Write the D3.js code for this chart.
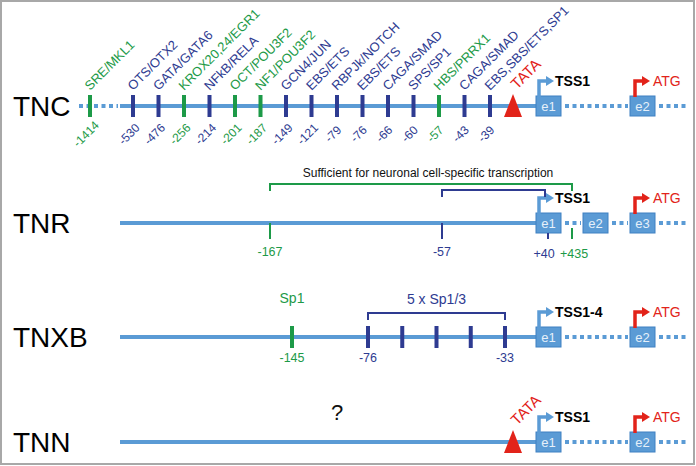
<!DOCTYPE html>
<html><head><meta charset="utf-8">
<script src="https://cdn.jsdelivr.net/npm/d3@7"></script>
<style>body{margin:0;background:#fff}svg{display:block}text{font-family:Arial,"Liberation Sans",sans-serif}</style>
</head><body><svg id="c" width="696" height="466"></svg>
<script>
// ---------------- data ----------------
const genes = ["TNC", "TNR", "TNXB", "TNN"];
const tssLabels = ["TSS1", "TSS1", "TSS1-4", "TSS1"];
const hasTata = [true, false, false, true];
const tncExons = ["e1", "e2"];
const tnrExons = ["e1", "e2", "e3"];
const tnxbExons = ["e1", "e2"];
const tnnExons = ["e1", "e2"];
const atgExon = ["e2", "e3", "e2", "e2"];

// TNC promoter binding sites
const tncFactors = ["SRE/MKL1", "OTS/OTX2", "GATA/GATA6", "KROX20,24/EGR1", "NFkB/RELA", "OCT/POU3F2", "NF1/POU3F2", "GCN4/JUN", "EBS/ETS", "RBPJk/NOTCH", "EBS/ETS", "CAGA/SMAD", "SPS/SP1", "HBS/PRRX1", "CAGA/SMAD", "EBS,SBS/ETS,SP1"];
const tncPositions = [-1414, -530, -476, -256, -214, -201, -187, -149, -121, -79, -76, -66, -60, -57, -43, -39];
const tncGroup = ["g", "b", "b", "g", "b", "g", "g", "b", "b", "b", "b", "b", "b", "g", "b", "b"];

// TNR
const tnrPositions = [-167, -57, 40, 435];
const tnrLabels = ["-167", "-57", "+40", "+435"];
const tnrGroup = ["g", "b", "b", "g"];
const tnrRegionLabel = "Sufficient for neuronal cell-specific transcription";
const tnrRegionWide = [-167, 435];
const tnrRegionNarrow = [-57, 40];

// TNXB
const tnxbFactors = ["Sp1", "Sp1/3", "Sp1/3", "Sp1/3", "Sp1/3", "Sp1/3"];
const tnxbPositions = [-145, -76, null, null, null, -33];
const tnxbGroup = ["g", "b", "b", "b", "b", "b"];
const tnxbRepeatLabel = "5 x Sp1/3";

// TNN
const tnnUnknown = "?";

// ---------------- drawing ----------------
const W = 696, H = 466;
const svg = d3.select("#c");
svg.append("rect").attr("x", 1).attr("y", 1).attr("width", W - 3).attr("height", H - 3)
  .attr("fill", "#fff").attr("stroke", "#a8a8a8").attr("stroke-width", 2);

const C = { line: "#5b9bd5", box: "#5b9bd5", boxStroke: "#3f80c2", g: "#1d9a48", b: "#2e3b91", red: "#e2231a", black: "#111" };
const color = d3.scaleOrdinal().domain(["g", "b"]).range([C.g, C.b]);

const rowY = d3.scaleOrdinal().domain(genes).range([106, 223, 337, 442]);
const exonLists = [tncExons, tnrExons, tnxbExons, tnnExons];
const boxW = 25, boxH = 20;
const lineStart = 120, lineEnd = 690;

function seg(x0, x1, y, dotted) {
  const l = svg.append("line").attr("x1", x0).attr("x2", x1).attr("y1", y).attr("y2", y)
    .attr("stroke", C.line).attr("stroke-width", 4);
  if (dotted) l.attr("stroke-dasharray", "4,3.5");
}
function bentArrow(x, top, col) {
  const h = 15, len = 8;
  svg.append("path").attr("d", `M${x},${top + 1}V${top - h}H${x + len}`)
    .attr("fill", "none").attr("stroke", col).attr("stroke-width", 3.5);
  svg.append("path").attr("d", `M${x + len - 1},${top - h - 5}L${x + len + 7},${top - h}L${x + len - 1},${top - h + 5}Z`)
    .attr("fill", col);
}
function rotText(x, y, txt, col, size, anchor, central) {
  const t = svg.append("text").attr("transform", `translate(${x},${y}) rotate(-45)`)
    .attr("text-anchor", anchor).attr("font-size", size).attr("fill", col).text(txt);
  if (central) t.attr("dy", "0.35em");
  return t;
}

genes.forEach((g, i) => {
  const y = rowY(g);
  const exs = exonLists[i];
  const ex = d3.scalePoint().domain(exs).range([536, 630]);

  svg.append("text").attr("x", 13).attr("y", y + 10).attr("font-size", 28).attr("fill", "#000").text(g);

  seg(lineStart, ex(exs[0]), y, false);
  exs.forEach((e, k) => {
    const x0 = ex(e) + boxW;
    const x1 = k < exs.length - 1 ? ex(exs[k + 1]) : lineEnd;
    seg(x0 + 4, x1 - 2, y, true);
  });
  exs.forEach(e => {
    svg.append("rect").attr("x", ex(e)).attr("y", y - boxH / 2).attr("width", boxW).attr("height", boxH)
      .attr("fill", C.box).attr("stroke", C.boxStroke).attr("stroke-width", 1);
    svg.append("text").attr("x", ex(e) + boxW / 2).attr("y", y + 5).attr("text-anchor", "middle")
      .attr("font-size", 13).attr("fill", "#e6f0fa").text(e);
  });
  const top = y - boxH / 2;
  const x1 = ex(exs[0]);
  bentArrow(x1 + 3, top, C.line);
  svg.append("text").attr("x", x1 + 19).attr("y", top - 10).attr("font-size", 14).attr("font-weight", "bold")
    .attr("fill", "#000").text(tssLabels[i]);
  const x2 = ex(atgExon[i]);
  bentArrow(x2 + 5, top, C.red);
  svg.append("text").attr("x", x2 + 23).attr("y", top - 10).attr("font-size", 14).attr("fill", C.red).text("ATG");
  if (hasTata[i]) {
    const tx = 513;
    svg.append("path").attr("d", `M${tx},${y - 12}L${tx + 9},${y + 11}L${tx - 9},${y + 11}Z`).attr("fill", C.red);
    rotText(tx + 4, y - 16, "TATA", C.red, 15, "start", false);
  }
});

// ---- TNC sites ----
{
  const y = rowY("TNC");
  seg(79, 118, y, true);
  const xs = d3.scaleLinear().domain([0, 1, tncFactors.length - 1]).range([90, 133, 490]);
  tncFactors.forEach((f, i) => {
    const x = xs(i), col = color(tncGroup[i]);
    svg.append("rect").attr("x", x - 2).attr("y", y - 11).attr("width", 4).attr("height", 22).attr("fill", col);
    rotText(x, y - 15, f, col, 13, "start", false);
    rotText(x - 4, y + 28, String(tncPositions[i]), col, 12, "middle", true);
  });
}

// ---- TNR sites ----
{
  const y = rowY("TNR");
  const xs = d3.scaleLinear().domain(tnrPositions).range([270, 442, 548, 572]);
  tnrPositions.forEach((p, i) => {
    const x = xs(p), col = color(tnrGroup[i]);
    const y0 = p === 40 ? y + boxH / 2 : (p === 435 ? y + 5 : y);
    svg.append("line").attr("x1", x).attr("x2", x).attr("y1", y0).attr("y2", y + 16)
      .attr("stroke", col).attr("stroke-width", 2);
    const ly = p > 0 ? y + 35 : y + 33;
    const dx = p === 40 ? -4 : (p === 435 ? 2 : 0);
    svg.append("text").attr("x", x + dx).attr("y", ly).attr("text-anchor", "middle")
      .attr("font-size", 12.5).attr("fill", col).text(tnrLabels[i]);
  });
  const bracket = (a, b, top, leg, col) => {
    svg.append("path").attr("d", `M${a},${top + leg}V${top}H${b}V${top + leg}`)
      .attr("fill", "none").attr("stroke", col).attr("stroke-width", 2);
  };
  bracket(xs(tnrRegionWide[0]), xs(tnrRegionWide[1]), y - 39, 7, C.g);
  bracket(xs(tnrRegionNarrow[0]), xs(tnrRegionNarrow[1]) - 3, y - 33, 7, C.b);
  svg.append("text").attr("x", (xs(tnrRegionWide[0]) + xs(tnrRegionWide[1])) / 2 + 7).attr("y", y - 46)
    .attr("text-anchor", "middle").attr("font-size", 12).attr("fill", "#111").text(tnrRegionLabel);
}

// ---- TNXB sites ----
{
  const y = rowY("TNXB");
  const xs = d3.scaleLinear().domain([0, 1, tnxbFactors.length - 1]).range([292, 368, 505]);
  tnxbFactors.forEach((f, i) => {
    const x = xs(i), col = color(tnxbGroup[i]);
    svg.append("rect").attr("x", x - 2).attr("y", y - 11).attr("width", 4).attr("height", 22).attr("fill", col);
    if (tnxbPositions[i] !== null) {
      svg.append("text").attr("x", x).attr("y", y + 25).attr("text-anchor", "middle")
        .attr("font-size", 12.5).attr("fill", col).text(String(tnxbPositions[i]));
    }
  });
  svg.append("text").attr("x", xs(0)).attr("y", y - 34).attr("text-anchor", "middle")
    .attr("font-size", 14).attr("fill", C.g).text(tnxbFactors[0]);
  const a = xs(1), b = xs(tnxbFactors.length - 1);
  svg.append("path").attr("d", `M${a},${y - 17}V${y - 24}H${b}V${y - 17}`)
    .attr("fill", "none").attr("stroke", C.b).attr("stroke-width", 2);
  svg.append("text").attr("x", (a + b) / 2).attr("y", y - 33).attr("text-anchor", "middle")
    .attr("font-size", 14).attr("fill", C.b).text(tnxbRepeatLabel);
}

// ---- TNN ----
{
  const y = rowY("TNN");
  svg.append("text").attr("x", 337).attr("y", y - 22).attr("text-anchor", "middle")
    .attr("font-size", 22).attr("fill", "#111").text(tnnUnknown);
}
</script></body></html>
